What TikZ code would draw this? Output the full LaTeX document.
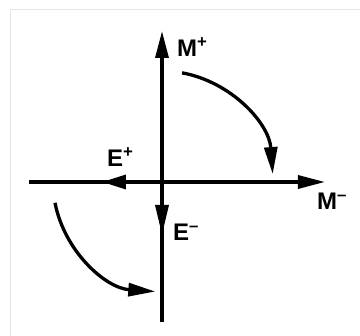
\documentclass[tikz,border=0pt]{standalone}
\usepackage{fontspec}
\setmainfont{Liberation Sans}
\usetikzlibrary{arrows.meta}
\begin{document}
\begin{tikzpicture}[x=1pt,y=1pt,
  axis/.style={line width=3.3pt},
  head/.style={-{Triangle[length=27pt,width=13pt]}},
  lbl/.style={font=\bfseries\fontsize{24}{26}\selectfont, inner sep=0pt, anchor=base west},
  frameline/.style={draw=black!10, line width=0.8pt}]
\useasboundingbox (-162,-154) rectangle (198,182);
% faint frame
\coordinate (fa) at (-152,-154);
\coordinate (fb) at (-152,173);
\coordinate (fc) at (198,173);
\draw[frameline] (fa) -- (fb) -- (fc);
% axes
\coordinate (O) at (0,0);
\coordinate (vtop) at (0,151);
\coordinate (vbot) at (0,-140);
\coordinate (hleft) at (-133,0);
\coordinate (hright) at (163,0);
\draw[axis,head] (vbot) -- (vtop);
\draw[axis,head] (hleft) -- (hright);
% mid-line arrowheads
\coordinate (eps) at (-36,0);
\coordinate (ept) at (-60,0);
\draw[axis,-{Triangle[length=24pt,width=14pt]}] (eps) -- (ept);
\coordinate (ems) at (0,-20);
\coordinate (emt) at (0,-53);
\draw[axis,-{Triangle[length=30pt,width=13pt]}] (ems) -- (emt);
% curved arrows
\draw[axis,head] (79.6:111) arc[start angle=79.6,end angle=4.1,radius=111];
\draw[axis,head] (191:109) arc[start angle=191,end angle=266,radius=110];
% labels
\node[lbl] (mp) at (15,125) {M\textsuperscript{+}};
\node[lbl] (ep) at (-55,15) {E\textsuperscript{+}};
\node[lbl] (mm) at (155,-28) {M\textsuperscript{–}};
\node[lbl] (em) at (11,-59) {E\textsuperscript{–}};
\end{tikzpicture}
\end{document}
